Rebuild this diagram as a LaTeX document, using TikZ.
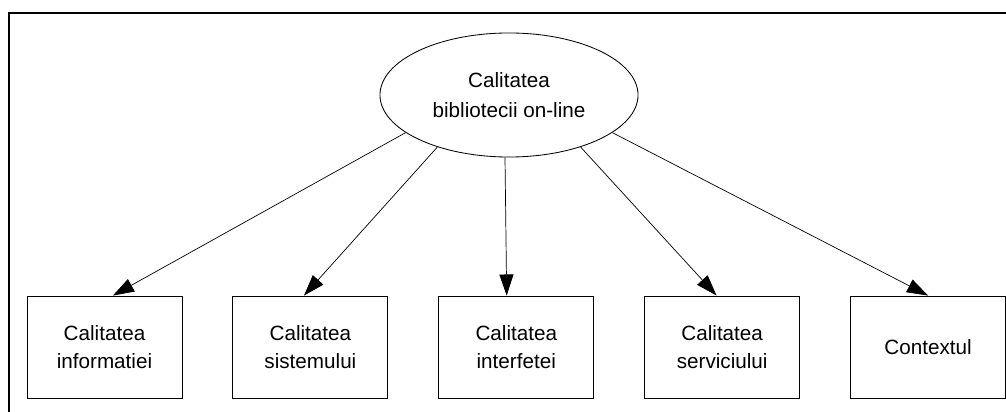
\documentclass[tikz,border=0pt]{standalone}
\usepackage{fontspec}
\setmainfont{Liberation Sans}
\usetikzlibrary{positioning, arrows.meta, shapes.geometric}

\tikzset{
  goal/.style={draw, ellipse, line width=0.6pt, minimum width=6.45cm, minimum height=3.1cm, inner sep=0pt, align=center, font=\fontsize{14.7}{21}\selectfont},
  factor/.style={draw, rectangle, line width=0.6pt, minimum width=3.875cm, minimum height=2.55cm, align=center, font=\fontsize{14.7}{19.5}\selectfont},
  link/.style={-{Triangle[length=15pt,width=10pt]}, line width=0.5pt},
}

\begin{document}
\begin{tikzpicture}[x=0.025cm, y=-0.025cm, node distance=1.25cm]
\useasboundingbox (0,0) rectangle (1006,412);
% outer frame
\draw[line width=1.4pt] (9,412) |- (1006,13);

\node[goal] (quality) at (509,95) {Calitatea\\bibliotecii on-line};

\node[factor] (info) at (104.5,347) {Calitatea\\informatiei};
\node[factor, right=of info] (system) {Calitatea\\sistemului};
\node[factor, right=of system] (iface) {Calitatea\\interfetei};
\node[factor, right=of iface] (service) {Calitatea\\serviciului};
\node[factor, right=of service] (context) {Contextul};

% arrows
\draw[link] (quality.200) -- ([xshift=0.21cm]info.north);
\draw[link] (quality.216) -- ([xshift=-0.16cm]system.north);
\draw[link] ([xshift=-0.1cm]quality.south) -- ([xshift=-0.24cm]iface.north);
\draw[link] (quality.324) -- ([xshift=-0.14cm]service.north);
\draw[link] (quality.340) -- (context.north);
\end{tikzpicture}
\end{document}
